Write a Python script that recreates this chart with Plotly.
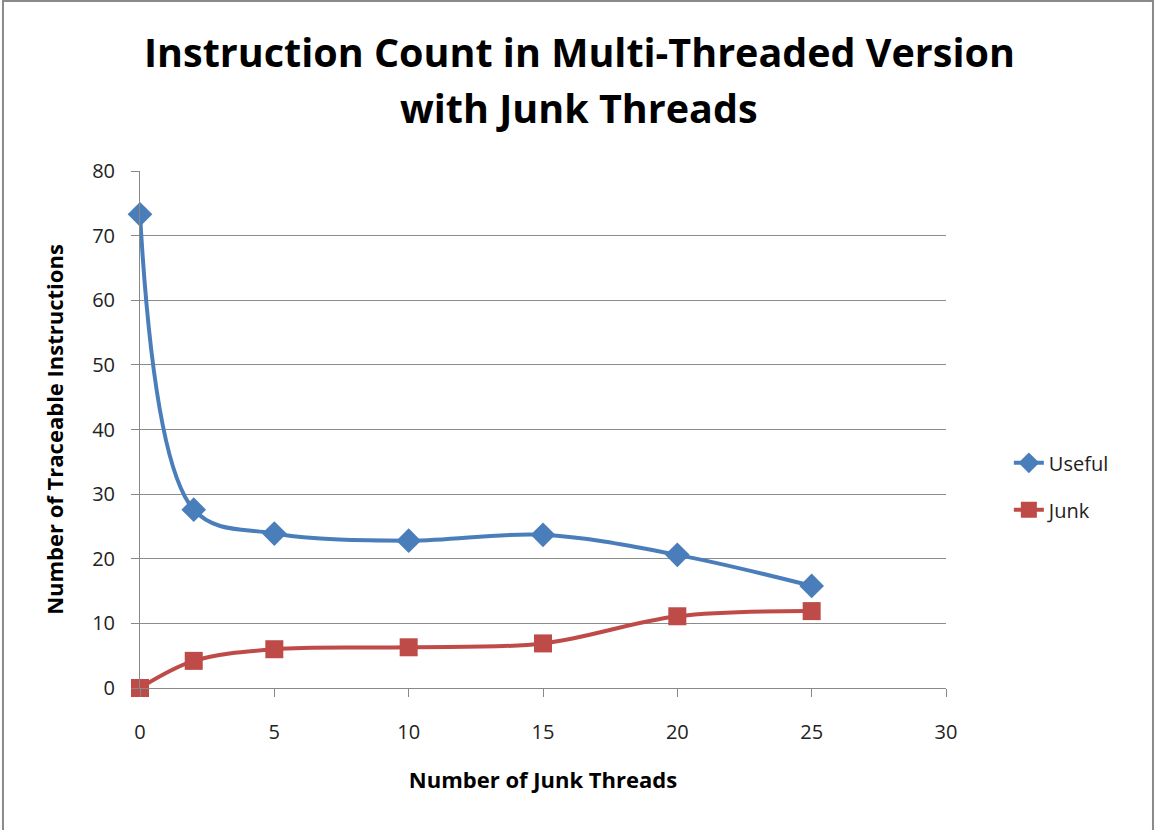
import plotly.graph_objects as go

# Number of junk threads
threads = [0, 2, 5, 10, 15, 20, 25]
# Traceable instruction counts per series
useful = [73.3, 27.6, 23.9, 22.8, 23.7, 20.6, 15.8]
junk = [0.0, 4.2, 6.0, 6.3, 6.9, 11.1, 11.9]

title_lines = ["Instruction Count in Multi-Threaded Version", "with Junk Threads"]

blue = "#4A7EBB"
red = "#BE4B48"
font_family = "'Open Sans', Lato, sans-serif"

fig = go.Figure()
fig.add_trace(go.Scatter(
    x=threads, y=useful, name="Useful", mode="lines+markers", legendgroup="u",
    line=dict(color=blue, width=4, shape="spline", smoothing=1.0),
    marker=dict(symbol="diamond", size=19, color=blue),
    cliponaxis=False,
))
fig.add_trace(go.Scatter(
    x=threads, y=junk, name="Junk", mode="lines+markers", legendgroup="j",
    line=dict(color=red, width=4, shape="spline", smoothing=1.0),
    marker=dict(symbol="square", size=18, color=red),
    cliponaxis=False,
))

fig.update_layout(
    width=1155, height=830,
    margin=dict(l=140, r=209, t=171, b=142),
    paper_bgcolor="white", plot_bgcolor="white",
    font=dict(family=font_family, color="#222222"),
    xaxis=dict(
        range=[0, 30], tickvals=[0, 5, 10, 15, 20, 25, 30],
        showgrid=False, zeroline=False,
        showline=True, linecolor="#888888", linewidth=1,
        ticks="outside", ticklen=8, tickcolor="#888888",
        ticklabelstandoff=18,
        tickfont=dict(size=20, color="#222222"),
        title=dict(text="<b>Number of Junk Threads</b>", font=dict(size=22, color="black"), standoff=28),
    ),
    yaxis=dict(
        range=[0, 80], tickvals=[0, 10, 20, 30, 40, 50, 60, 70, 80],
        showgrid=True, gridcolor="#8C8C8C", gridwidth=1,
        zeroline=False,
        showline=True, linecolor="#888888", linewidth=1,
        ticks="outside", ticklen=8, tickcolor="#888888",
        ticklabelstandoff=12,
        tickfont=dict(size=20, color="#222222"),
        title=dict(text="<b>Number of Traceable Instructions</b>", font=dict(size=22, color="black"), standoff=22),
    ),
    legend=dict(
        x=1.078, y=0.39, xanchor="left", yanchor="middle",
        font=dict(size=20, color="#222222"),
        bgcolor="rgba(0,0,0,0)", tracegroupgap=18, traceorder="grouped",
    ),
    showlegend=True,
)

# two-line chart title
for text, ypix in zip(title_lines, [52, 108]):
    fig.add_annotation(
        text=f"<b>{text}</b>", xref="paper", yref="paper",
        x=(579 - 140) / 806, y=(688 - ypix) / 517,
        xanchor="center", yanchor="middle", showarrow=False,
        font=dict(size=39.5, color="black", family=font_family),
    )

# outer chart frame
fig.add_shape(
    type="rect", xref="paper", yref="paper",
    x0=-0.170, x1=1.2568, y0=-0.29, y1=1.3288,
    line=dict(color="#8A8A8A", width=2), fillcolor="rgba(0,0,0,0)", layer="below",
)

fig.write_html("out.html")
